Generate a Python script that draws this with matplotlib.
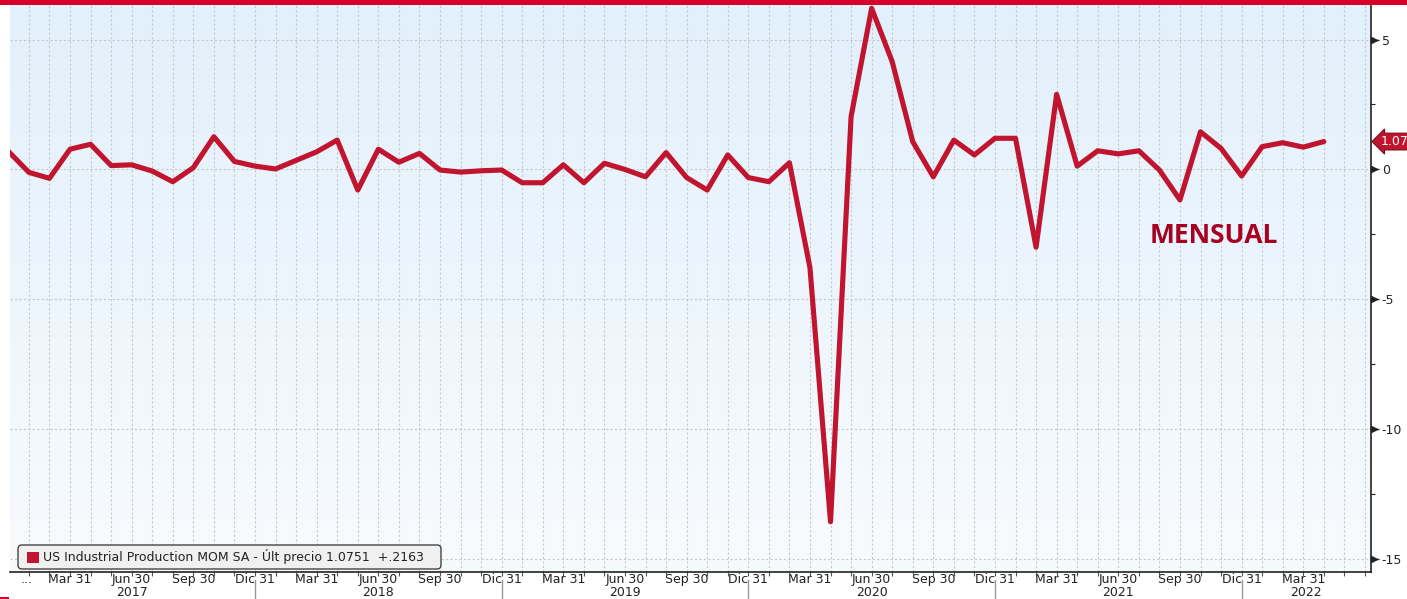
import numpy as np
import matplotlib
matplotlib.use("Agg")
import matplotlib.pyplot as plt
from matplotlib.patches import Rectangle, FancyBboxPatch
from matplotlib.transforms import IdentityTransform, blended_transform_factory
from matplotlib.ticker import FixedLocator, MultipleLocator

plt.rcParams["axes.unicode_minus"] = False

# ---- data (monthly, Dec 2016 .. Apr 2022) ----
start_month = "2016-12"
values = [0.70, -0.11, -0.34, 0.78, 0.97, 0.15, 0.18, -0.06, -0.47, 0.07, 1.26, 0.31,
          0.13, 0.02, 0.35, 0.68, 1.13, -0.79, 0.78, 0.28, 0.62, -0.02, -0.10, -0.05,
          -0.02, -0.51, -0.51, 0.18, -0.51, 0.24, 0.00, -0.28, 0.65, -0.31, -0.79, 0.56,
          -0.31, -0.47, 0.26, -3.78, -13.55, 2.03, 6.20, 4.15, 1.07, -0.28, 1.13, 0.56,
          1.20, 1.20, -2.99, 2.89, 0.13, 0.72, 0.60, 0.72, -0.02, -1.17, 1.45, 0.81,
          -0.25, 0.88, 1.03, 0.86, 1.0751]
quarter_labels = ["Mar 31", "Jun 30", "Sep 30", "Dic 31"]
year_labels = ["2017", "2018", "2019", "2020", "2021", "2022"]
y_ticks = [-15, -10, -5, 0, 5]
last_label = "1.07"
legend_text = "US Industrial Production MOM SA - \u00dalt precio 1.0751  +.2163"
annotation = "MENSUAL"

LINE = "#c0142f"
TXT = "#222222"
W, H = 1407, 599
fig = plt.figure(figsize=(W / 100, H / 100), dpi=100)
fig.patch.set_facecolor("white")

left, right, top, bottom = 10, 1370.7, 5, 571.7
rect = [left / W, (H - bottom) / H, (right - left) / W, (bottom - top) / H]

# gradient background
bg = fig.add_axes(rect, zorder=0)
grad = np.linspace(0, 1, 256).reshape(-1, 1)
c_top = np.array([226, 240, 251]) / 255
c_bot = np.array([248, 251, 254]) / 255
img = c_top[None, None, :] * (1 - grad[:, :, None]) + c_bot[None, None, :] * grad[:, :, None]
bg.imshow(img, aspect="auto", extent=[0, 1, 0, 1])
bg.axis("off")

ax = fig.add_axes(rect, zorder=1)
ax.set_facecolor("none")

x = np.arange(len(values))
ax.plot(x, values, color=LINE, lw=3.7, solid_joinstyle="round", solid_capstyle="round", zorder=3)

ax.set_xlim(0.081, 66.28)
ax.set_ylim(-15.47, 6.327)

# grid / ticks
ax.xaxis.set_minor_locator(FixedLocator(np.arange(0, 67)))
qpos = np.arange(3, len(values), 3)
ax.xaxis.set_major_locator(FixedLocator(qpos))
ax.set_xticklabels([quarter_labels[(i // 3 - 1) % 4] for i in qpos])
ax.grid(which="both", axis="x", color="#c8c8c8", lw=0.8, ls=(0, (2, 2)))
ax.yaxis.tick_right()
ax.set_yticks(y_ticks)
ax.yaxis.set_minor_locator(MultipleLocator(2.5))
ax.grid(which="major", axis="y", color="#c8c8c8", lw=0.8, ls=(0, (2, 2)))

for s in ["left", "top"]:
    ax.spines[s].set_visible(False)
for s in ["right", "bottom"]:
    ax.spines[s].set_color(TXT)
    ax.spines[s].set_linewidth(1.2)

ax.tick_params(axis="x", which="both", length=3, width=0.8, color="#555555",
               labelsize=9, labelcolor=TXT, pad=-2.2)
ax.tick_params(axis="y", which="major", length=6, width=1.0, color=TXT,
               labelsize=9, labelcolor=TXT, pad=2)
ax.tick_params(axis="y", which="minor", length=3, width=0.8, color=TXT)

# arrow-like major y tick heads
ty = blended_transform_factory(ax.transAxes, ax.transData)
ax.plot([1.0 + 3.5 / (right - left)] * len(y_ticks), y_ticks, ls="none", marker=">",
        ms=5, color=TXT, transform=ty, clip_on=False, zorder=6)

# "..." first label
tb = blended_transform_factory(ax.transData, ax.transAxes)
ax.text(0.9, -0.003, "...", transform=tb, ha="center", va="top", fontsize=9, color=TXT)

# year labels and separators
xl0, xl1 = ax.get_xlim()
bounds = [xl0, 12, 24, 36, 48, 60, xl1]
for i, yl in enumerate(year_labels):
    cx = (bounds[i] + bounds[i + 1]) / 2
    ax.text(cx, -0.037, yl, transform=tb, ha="center", va="center", fontsize=9, color=TXT)
for b in bounds[1:-1]:
    ax.plot([b, b], [-0.015, -0.06], transform=tb, color="#999999", lw=1.0, clip_on=False)

# annotation
ax.text(58.66, -2.52, annotation, fontsize=19, fontweight="bold", color="#a80020",
        ha="center", va="center", family="Open Sans", zorder=4)

# last value tag
ax.text(1.0075, values[-1], last_label, transform=ty, ha="left", va="center", fontsize=9,
        color="white", clip_on=False, zorder=7,
        bbox=dict(boxstyle="larrow,pad=0.15", fc=LINE, ec="#7a0a1e", lw=0.8))

# legend box (pixel coordinates)
def py(yy):
    return H - yy
leg = FancyBboxPatch((18, py(569)), 423, 24, boxstyle="round,pad=0,rounding_size=4",
                     fc="#f0f0f0", ec="#444444", lw=1.0, transform=IdentityTransform(), zorder=10)
fig.patches.append(leg)
fig.patches.append(Rectangle((27, py(563)), 12, 11, fc=LINE, ec="none",
                             transform=IdentityTransform(), zorder=11))
fig.text(43 / W, py(557) / H, legend_text, fontsize=9, color=TXT, va="center", ha="left",
         zorder=12)

# red top bar and small corner mark
fig.patches.append(Rectangle((0, H - 5), W, 5, fc="#d7002a", ec="none",
                             transform=IdentityTransform(), zorder=20))
fig.patches.append(Rectangle((0, 0), 9, 2, fc="#d7002a", ec="none",
                             transform=IdentityTransform(), zorder=20))

fig.savefig("out.png", dpi=100)
